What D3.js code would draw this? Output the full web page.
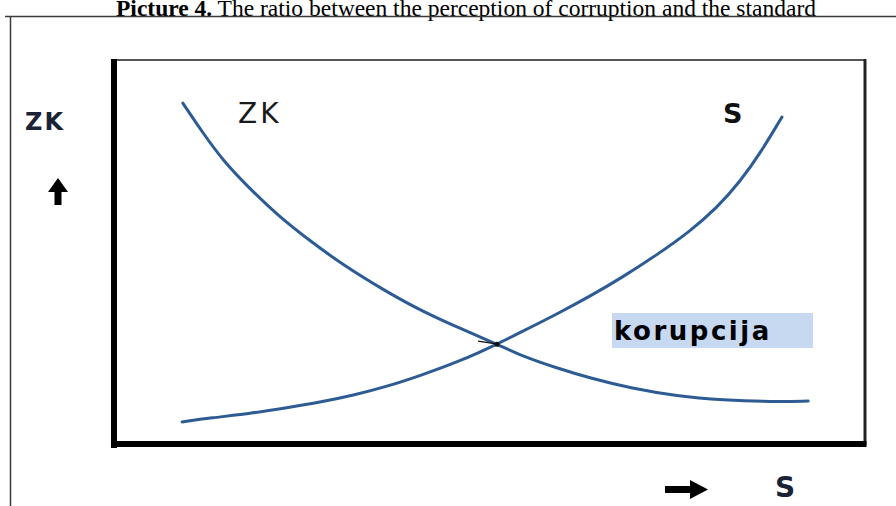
<!DOCTYPE html>
<html><head><meta charset="utf-8">
<script src="https://cdn.jsdelivr.net/npm/d3@7"></script>
<style>body{margin:0;background:#fff;}svg{display:block;}</style>
</head><body>
<svg id="c" width="896" height="506"></svg>
<script>
// ZK curve (perception of corruption), x = standard (0-100), y = level (0-100)
const zkX = [8.8, 11.5, 14.2, 17.8, 21.4, 25.8, 30.2, 35.6, 40.9, 46.3, 50.8, 54.3, 58.8, 63.2, 68.6, 74.9, 81.0, 87.7, 92.4];
const zkY = [88.8, 81.0, 73.8, 66.5, 59.8, 53.0, 46.8, 40.3, 34.6, 29.9, 26.2, 23.0, 20.0, 17.4, 14.8, 12.7, 11.7, 11.2, 11.4];
// S curve (standard)
const sX = [8.7, 12.4, 18.2, 22.7, 27.1, 31.6, 36.1, 40.5, 45.9, 50.8, 54.3, 58.8, 63.2, 67.6, 72.2, 76.6, 80.2, 83.3, 86.0, 88.9];
const sY = [6.0, 7.0, 8.3, 9.7, 11.1, 12.9, 15.2, 18.0, 21.8, 26.2, 29.6, 34.0, 38.6, 43.6, 49.4, 55.5, 61.6, 68.4, 75.8, 85.2];
const crossing = [50.8, 26.2];
const title = ["Picture 4.", " The ratio between the perception of corruption and the standard"];
const labels = {zk: "ZK", s: "S", korupcija: "korupcija"};

const svg = d3.select("#c");
const pL = 117, pR = 865, pT = 60, pB = 445;
const x = d3.scaleLinear().domain([0, 100]).range([pL, pR]);
const y = d3.scaleLinear().domain([0, 100]).range([pB, pT]);

// title
const t = svg.append("text").attr("x", 466).attr("y", 16).attr("text-anchor", "middle")
  .style("font-family", "'Liberation Serif', 'Times New Roman', serif").style("font-size", "23.5px").attr("fill", "#000");
t.append("tspan").attr("font-weight", "bold").text(title[0]);
t.append("tspan").text(title[1]);

// outer frame
svg.append("path").attr("d", "M5,16.5H896M10.5,16.5V506").attr("fill", "none").attr("stroke", "#3a3a3a").attr("stroke-width", 1.5);

// inner box
svg.append("line").attr("x1", pL - 5).attr("x2", pR + 1).attr("y1", pT).attr("y2", pT).attr("stroke", "#555").attr("stroke-width", 2);
svg.append("line").attr("x1", pR).attr("x2", pR).attr("y1", pT - 1).attr("y2", pB).attr("stroke", "#222").attr("stroke-width", 3);
svg.append("line").attr("x1", pL - 3).attr("x2", pL - 3).attr("y1", pT - 1).attr("y2", pB + 3).attr("stroke", "#000").attr("stroke-width", 6);
svg.append("line").attr("x1", pL - 6).attr("x2", pR + 1.5).attr("y1", pB - 1).attr("y2", pB - 1).attr("stroke", "#000").attr("stroke-width", 6);

// curves
const line = d3.line().x(d => x(d[0])).y(d => y(d[1])).curve(d3.curveBasis);
const col = "#2d5b93";
svg.append("path").datum(zkX.map((v, i) => [v, zkY[i]])).attr("d", line)
  .attr("fill", "none").attr("stroke", col).attr("stroke-width", 3).attr("stroke-linecap", "round");
svg.append("path").datum(sX.map((v, i) => [v, sY[i]])).attr("d", line)
  .attr("fill", "none").attr("stroke", col).attr("stroke-width", 3).attr("stroke-linecap", "round");

// small black mark at crossing
svg.append("line").attr("x1", x(crossing[0]) - 19).attr("y1", y(crossing[1]) - 3)
  .attr("x2", x(crossing[0]) + 1).attr("y2", y(crossing[1]))
  .attr("stroke", "#111").attr("stroke-width", 1.5);
svg.append("circle").attr("cx", x(crossing[0])).attr("cy", y(crossing[1])).attr("r", 2.5).attr("fill", "#111");

// curve labels
svg.append("text").attr("x", 238).attr("y", 123).text(labels.zk)
  .style("font-family", "'DejaVu Sans', sans-serif").style("font-size", "28px").style("letter-spacing", "3px").attr("fill", "#1a1a1a");
svg.append("text").attr("x", 723).attr("y", 123).text(labels.s)
  .style("font-family", "'DejaVu Sans', sans-serif").style("font-weight", "bold").style("font-size", "27px").attr("fill", "#111");

// korupcija box
svg.append("rect").attr("x", 612).attr("y", 313).attr("width", 201).attr("height", 35).attr("fill", "#c6d9f1");
svg.append("text").attr("x", 614).attr("y", 340).text(labels.korupcija)
  .style("font-family", "'DejaVu Sans', sans-serif").style("font-weight", "bold").style("font-size", "26px").style("letter-spacing", "2.5px").attr("fill", "#000");

// axis titles
svg.append("text").attr("x", 25).attr("y", 130).text(labels.zk)
  .style("font-family", "'DejaVu Sans', sans-serif").style("font-weight", "bold").style("font-size", "24px").style("letter-spacing", "2px").attr("fill", "#1c2236");
svg.append("text").attr("x", 775).attr("y", 497).text(labels.s)
  .style("font-family", "'DejaVu Sans', sans-serif").style("font-weight", "bold").style("font-size", "28px").attr("fill", "#1c2236");

// arrows
svg.append("path").attr("d", "M58,178 L68,192 L61.5,192 L61.5,205 L54.5,205 L54.5,192 L48,192 Z").attr("fill", "#000");
svg.append("path").attr("d", "M708,489.5 L690,480 L690,486 L665,486 L665,493 L690,493 L690,499 Z").attr("fill", "#000");
</script>
</body></html>
